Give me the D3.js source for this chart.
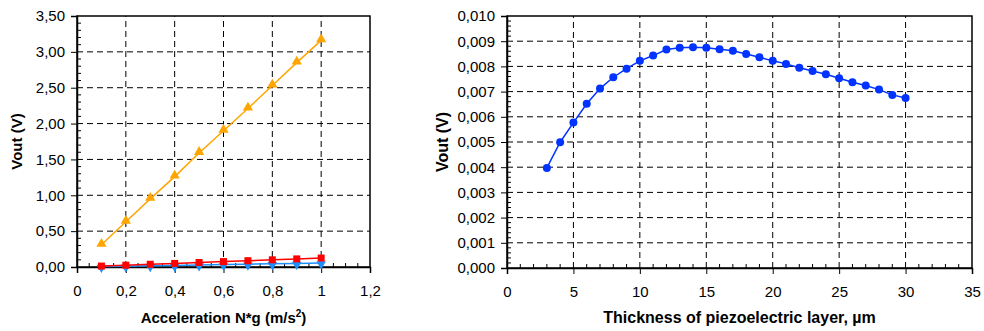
<!DOCTYPE html>
<html>
<head>
<meta charset="utf-8">
<script src="https://d3js.org/d3.v7.min.js"></script>
<style>
  body { margin: 0; background: #fff; }
  svg { display: block; font-family: "Liberation Sans", Arial, sans-serif; }
  .tick text { font-size: 15px; fill: #000; }
  .title { font-weight: bold; fill: #000; }
  .grid line { stroke: #000; stroke-dasharray: 6,4; stroke-width: 1; }
</style>
</head>
<body>
<script>
// left chart: Vout vs acceleration
const accel = [0.1, 0.2, 0.3, 0.4, 0.5, 0.6, 0.7, 0.8, 0.9, 1.0];
const voutOrange = [0.31, 0.63, 0.95, 1.26, 1.59, 1.90, 2.21, 2.53, 2.85, 3.16];
const voutRed = [0.013, 0.025, 0.038, 0.050, 0.063, 0.075, 0.088, 0.100, 0.113, 0.125];
const voutBlue = [0.006, 0.011, 0.017, 0.022, 0.028, 0.034, 0.039, 0.045, 0.050, 0.056];
const accelTicks = [0, 0.2, 0.4, 0.6, 0.8, 1.0, 1.2];
const voutTicks = [0, 0.5, 1.0, 1.5, 2.0, 2.5, 3.0, 3.5];

// right chart: Vout vs thickness
const thickness = [3, 4, 5, 6, 7, 8, 9, 10, 11, 12, 13, 14, 15, 16, 17, 18, 19, 20,
                   21, 22, 23, 24, 25, 26, 27, 28, 29, 30];
const voutThick = [0.00397, 0.00499, 0.00577, 0.00652, 0.00712, 0.00757, 0.00791, 0.00822,
                   0.00843, 0.00867, 0.00874, 0.00876, 0.00874, 0.00868, 0.00862, 0.00849,
                   0.00836, 0.00822, 0.00810, 0.00795, 0.00782, 0.00769, 0.00753, 0.00737,
                   0.00724, 0.00708, 0.00687, 0.00675];
const thickTicks = [0, 5, 10, 15, 20, 25, 30, 35];
const voutThickTicks = d3.range(0, 11).map(i => i / 1000);

const svg = d3.select('body').append('svg')
    .attr('width', 984)
    .attr('height', 331);

const comma = (d, n) => d.toFixed(n).replace('.', ',');

function drawFrame(opts) {
    const {x, y, xTicks, yTicks, xMinor, yMinor, xFmt, yFmt, xTitle, yTitleX, titleSize} = opts;
    const [x0, x1] = x.range();
    const [y0, y1] = y.range(); // y0 bottom, y1 top
    const g = svg.append('g');

    // grid
    const grid = g.append('g').attr('class', 'grid');
    grid.selectAll('.h').data(yTicks.filter(d => d > y.domain()[0] && d < y.domain()[1]))
        .join('line')
        .attr('x1', x0).attr('x2', x1)
        .attr('y1', d => y(d)).attr('y2', d => y(d));
    grid.selectAll('.v').data(xTicks.filter(d => d > x.domain()[0] && d < x.domain()[1]))
        .join('line')
        .attr('y1', y0).attr('y2', y1)
        .attr('x1', d => x(d)).attr('x2', d => x(d));

    // minor ticks (inside)
    g.append('g').selectAll('line').data(xMinor).join('line')
        .attr('x1', d => x(d)).attr('x2', d => x(d))
        .attr('y1', y0).attr('y2', y0 - 4)
        .attr('stroke', '#000');
    g.append('g').selectAll('line').data(yMinor).join('line')
        .attr('y1', d => y(d)).attr('y2', d => y(d))
        .attr('x1', x0).attr('x2', x0 + 4)
        .attr('stroke', '#000');

    // box
    g.append('rect')
        .attr('x', x0).attr('y', y1)
        .attr('width', x1 - x0).attr('height', y0 - y1)
        .attr('fill', 'none').attr('stroke', '#000').attr('stroke-width', 1.5);

    // axes
    const xa = g.append('g').attr('transform', `translate(0,${y0})`)
        .call(d3.axisBottom(x).tickValues(xTicks).tickFormat(xFmt).tickSize(6).tickPadding(12));
    const ya = g.append('g').attr('transform', `translate(${x0},0)`)
        .call(d3.axisLeft(y).tickValues(yTicks).tickFormat(yFmt).tickSize(6).tickPadding(6));
    [xa, ya].forEach(a => {
        a.select('.domain').attr('stroke', '#000').attr('stroke-width', 1.5);
        a.selectAll('.tick line').attr('stroke', '#000');
        a.attr('font-family', null).attr('font-size', null);
    });

    g.append('text').attr('class', 'title')
        .attr('font-size', titleSize + 'px')
        .attr('x', (x0 + x1) / 2).attr('y', 323)
        .attr('text-anchor', 'middle')
        .html(xTitle);
    g.append('text').attr('class', 'title')
        .attr('font-size', titleSize + 'px')
        .attr('transform', `translate(${yTitleX},${(y0 + y1) / 2}) rotate(-90)`)
        .attr('text-anchor', 'middle')
        .text('Vout (V)');
    return g;
}

// ---------- left chart ----------
const xL = d3.scaleLinear().domain([0, 1.2]).range([77, 370]);
const yL = d3.scaleLinear().domain([0, 3.5]).range([267, 16]);

drawFrame({
    x: xL, y: yL,
    xTicks: accelTicks, yTicks: voutTicks,
    xMinor: d3.range(1, 24).map(i => i * 0.05).filter(d => Math.abs(d / 0.2 - Math.round(d / 0.2)) > 1e-6),
    yMinor: d3.range(1, 35).map(i => i * 0.1).filter(d => Math.abs(d / 0.5 - Math.round(d / 0.5)) > 1e-6),
    xFmt: d => d === 0 ? '0' : (d === 1 ? '1' : comma(d, 1)),
    yFmt: d => comma(d, 2),
    xTitle: 'Acceleration N*g (m/s<tspan dy="-6" font-size="10px">2</tspan><tspan dy="6">)</tspan>',
    yTitleX: 22,
    titleSize: 15
});

const lineL = vals => d3.line().x((d, i) => xL(accel[i])).y(d => yL(d))(vals);
const gL = svg.append('g');

// blue series (down triangles)
gL.append('path').attr('d', lineL(voutBlue))
    .attr('fill', 'none').attr('stroke', '#1e8fff').attr('stroke-width', 1.5);
gL.selectAll('.bm').data(voutBlue).join('path')
    .attr('transform', (d, i) => `translate(${xL(accel[i])},${yL(d) + 1}) rotate(180)`)
    .attr('d', d3.symbol(d3.symbolTriangle, 40)())
    .attr('fill', '#1e8fff');

// red series (squares)
gL.append('path').attr('d', lineL(voutRed))
    .attr('fill', 'none').attr('stroke', '#ff0000').attr('stroke-width', 1.5);
gL.selectAll('.rm').data(voutRed).join('rect')
    .attr('x', (d, i) => xL(accel[i]) - 3.5).attr('y', d => yL(d) - 3.5)
    .attr('width', 7).attr('height', 7)
    .attr('fill', '#ff0000');

// orange series (triangles)
gL.append('path').attr('d', lineL(voutOrange))
    .attr('fill', 'none').attr('stroke', '#ffa500').attr('stroke-width', 1.5);
gL.selectAll('.om').data(voutOrange).join('path')
    .attr('transform', (d, i) => `translate(${xL(accel[i])},${yL(d) - 1})`)
    .attr('d', d3.symbol(d3.symbolTriangle, 45)())
    .attr('fill', '#ffa500');

// ---------- right chart ----------
const xR = d3.scaleLinear().domain([0, 35]).range([507, 972]);
const yR = d3.scaleLinear().domain([0, 0.010]).range([268, 16]);

drawFrame({
    x: xR, y: yR,
    xTicks: thickTicks, yTicks: voutThickTicks,
    xMinor: d3.range(1, 35).filter(d => d % 5 !== 0),
    yMinor: d3.range(1, 50).filter(d => d % 5 !== 0).map(d => d * 0.0002),
    xFmt: d => String(d),
    yFmt: d => comma(d, 3),
    xTitle: 'Thickness of piezoelectric layer, µm',
    yTitleX: 448,
    titleSize: 16
});

const gR = svg.append('g');
gR.append('path')
    .attr('d', d3.line().x((d, i) => xR(thickness[i])).y(d => yR(d))(voutThick))
    .attr('fill', 'none').attr('stroke', '#0033ff').attr('stroke-width', 1.5);
gR.selectAll('circle').data(voutThick).join('circle')
    .attr('cx', (d, i) => xR(thickness[i])).attr('cy', d => yR(d))
    .attr('r', 4)
    .attr('fill', '#0033ff');
</script>
</body>
</html>
